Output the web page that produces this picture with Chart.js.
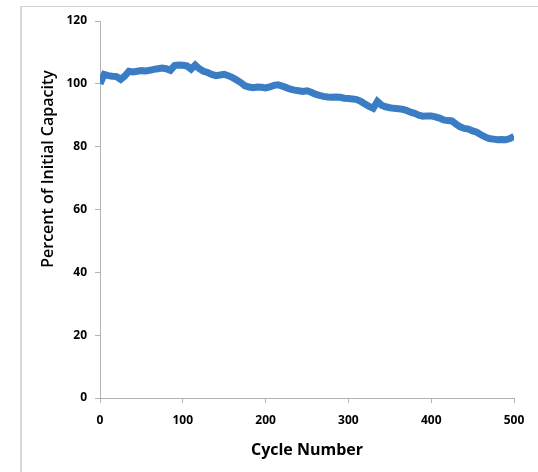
<!DOCTYPE html>
<html lang="en">
<head>
  <meta charset="UTF-8" />
  <title>Percent of Initial Capacity vs Cycle Number</title>
  <script src="https://cdn.jsdelivr.net/npm/chart.js"></script>
  <style>
    body { margin: 0; background: #fff; overflow: hidden; }
    #wrap { position: relative; width: 538px; height: 472px; }
    #frame { position: absolute; left: 20px; top: 6px; width: 600px; height: 600px;
             border-top: 1px solid #d4d4d4; border-left: 2px solid #d9d9d9; }
    canvas { position: absolute; left: 0; top: 0; }
  </style>
</head>
<body>
  <div id="wrap">
    <div id="frame"></div>
    <canvas id="chart" width="538" height="472"></canvas>
  </div>

  <script>
    // cycle numbers (every 5 cycles) and capacity
    const cycles = [];
    for (let c = 0; c <= 500; c += 5) cycles.push(c);
    const capacity = [
      100.0, 103.0, 102.6, 102.4, 102.3, 101.4, 102.5, 104.0, 103.8, 104.0,
      104.2, 104.1, 104.3, 104.6, 104.8, 105.0, 104.8, 104.3, 105.8, 106.0,
      105.9, 105.7, 104.7, 106.0, 104.8, 104.0, 103.6, 103.0, 102.6, 102.8,
      103.0, 102.6, 102.0, 101.2, 100.4, 99.4, 99.0, 98.8, 99.0, 98.9,
      98.7, 99.0, 99.5, 99.7, 99.3, 98.8, 98.3, 98.0, 97.8, 97.6,
      97.8, 97.3, 96.7, 96.3, 96.0, 95.8, 95.7, 95.8, 95.7, 95.4,
      95.3, 95.2, 95.0, 94.4, 93.6, 92.8, 92.2, 94.4, 93.2, 92.7,
      92.4, 92.2, 92.1, 91.9, 91.6, 91.0, 90.6, 90.0, 89.7, 89.8,
      89.8, 89.5, 89.1, 88.5, 88.3, 88.2, 87.2, 86.3, 85.8, 85.6,
      85.0, 84.6, 83.8, 83.1, 82.6, 82.4, 82.2, 82.3, 82.2, 82.6,
      83.3
    ];
    const xTicks = [0, 100, 200, 300, 400, 500];
    const yTicks = [0, 20, 40, 60, 80, 100, 120];

    const axisGray = '#b3b3b3';
    const tickFont = { family: 'Open Sans', size: 12, weight: 'bold' };

    const titles = {
      id: 'titles',
      afterDraw(chart) {
        const ctx = chart.ctx;
        ctx.save();
        ctx.fillStyle = '#000';
        ctx.textAlign = 'center';
        ctx.textBaseline = 'middle';
        ctx.font = 'bold 16px "Open Sans"';
        ctx.fillText('Cycle Number', 307, 450);
        ctx.translate(48, 169);
        ctx.rotate(-Math.PI / 2);
        ctx.font = '600 16px "Open Sans"';
        ctx.fillText('Percent of Initial Capacity', 0, 0);
        ctx.restore();
      }
    };

    new Chart(document.getElementById('chart').getContext('2d'), {
      type: 'line',
      data: {
        datasets: [{
          data: cycles.map((c, i) => ({ x: c, y: capacity[i] })),
          borderColor: '#3b7dc5',
          backgroundColor: '#3b7dc5',
          borderWidth: 7,
          pointRadius: 0,
          tension: 0
        }]
      },
      options: {
        responsive: false,
        animation: false,
        layout: { padding: { top: 21, right: 24, left: 0, bottom: 0 } },
        plugins: { legend: { display: false }, tooltip: { enabled: false } },
        scales: {
          x: {
            type: 'linear', min: 0, max: 500,
            afterBuildTicks: s => { s.ticks = xTicks.map(v => ({ value: v })); },
            afterFit: s => { s.height = 74; },
            grid: { drawOnChartArea: false, tickLength: 5, color: axisGray },
            border: { color: axisGray },
            ticks: { font: tickFont, color: '#000', padding: 10, maxRotation: 0 }
          },
          y: {
            min: 0, max: 120,
            afterBuildTicks: s => { s.ticks = yTicks.map(v => ({ value: v })); },
            afterFit: s => { s.width = 100; },
            grid: { drawOnChartArea: false, tickLength: 5, color: axisGray },
            border: { color: axisGray },
            ticks: { font: tickFont, color: '#000', padding: 8 }
          }
        }
      },
      plugins: [titles]
    });
  </script>
</body>
</html>
